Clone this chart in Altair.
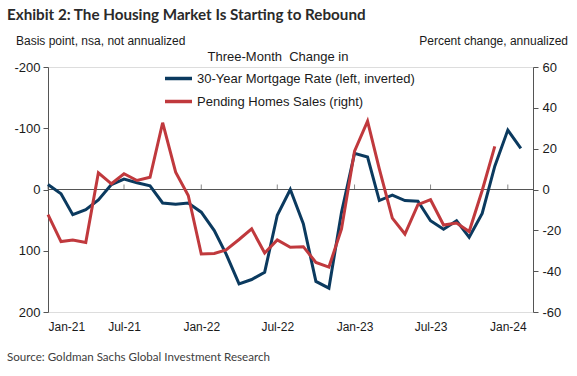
import altair as alt
import pandas as pd

# ---- data ----
months = pd.date_range("2021-01-01", periods=38, freq="MS").strftime("%Y-%m-%dT00:00:00").tolist()
mortgage_bp = [-8, 7, 41, 33, 17, -8, -17, -11, -6, 22, 24, 22, 37, 67, 105, 154, 147, 135,
               42, 0, 56, 150, 161, 37, -59, -53, 18, 9, 18, 19, 51, 65, 51, 78, 39, -38, -97, -67]
pending_pct = [-12.3, -25.5, -24.7, -25.9, 8.2, 2.8, 7.7, 4.4, 6.0, 32.7, 8.5, -2.9,
               -31.6, -31.3, -29.6, -24.5, -19.3, -31.1, -24.7, -28.3, -28.0, -35.7, -38.0, -19.3,
               18.8, 33.5, 10.1, -14.0, -21.8, -7.4, -5.0, -17.4, -16.4, -20.6, -0.5, 21.1]
tick_months = [(2021, 1), (2021, 7), (2022, 1), (2022, 7), (2023, 1), (2023, 7), (2024, 1)]
left_ticks = [-200, -150, -100, -50, 0, 50, 100, 150, 200]
right_ticks = [-60, -40, -20, 0, 20, 40, 60]
S1 = "30-Year Mortgage Rate (left, inverted)"
S2 = "Pending Homes Sales (right)"

BLUE = "#0B3A5F"
RED = "#C0393D"
AX = "#555555"
TXT = "#1a1a1a"
FONT = "Liberation Sans, Arial, sans-serif"
TFONT = "Lato, sans-serif"

df_m = pd.DataFrame({"date": months, "value": mortgage_bp, "series": S1})
df_p = pd.DataFrame({"date": months[:len(pending_pct)], "value": pending_pct, "series": S2})
df_ticks = pd.DataFrame({"date": [f"{y}-{m:02d}-01T00:00:00" for y, m in tick_months], "z": 0})
df_zero = pd.DataFrame({"z": [0]})

x_axis = alt.Axis(
    values=[alt.DateTime(year=y, month=m, date=1) for y, m in tick_months],
    format="%b-%y", domain=False, ticks=False, grid=False, title=None,
    labelPadding=9, labelFontSize=12, labelFont=FONT, labelColor=TXT,
)
x_scale = alt.Scale(domain=[alt.DateTime(year=2021, month=1, date=1),
                            alt.DateTime(year=2024, month=3, date=1)])
X = alt.X("date:T", scale=x_scale, axis=x_axis)

left_scale = alt.Scale(domain=[-200, 200], reverse=True, nice=False, zero=False)
right_scale = alt.Scale(domain=[-60, 60], nice=False, zero=False)

legend = alt.Legend(
    title=None, orient="none", legendX=115, legendY=-4, symbolType="stroke",
    symbolSize=729, symbolStrokeWidth=3.5, labelFontSize=13, labelFont=FONT,
    labelColor=TXT, rowPadding=-3, labelOffset=3, padding=0, labelLimit=0,
)
color = alt.Color("series:N", scale=alt.Scale(domain=[S1, S2], range=[BLUE, RED]), legend=legend)

blue = alt.Chart(df_m).mark_line(strokeWidth=3).encode(
    x=X,
    y=alt.Y("value:Q", scale=left_scale,
            axis=alt.Axis(values=left_ticks, orient="left", title=None, grid=False,
                          tickSize=5, domainColor=AX, tickColor=AX, labelFontSize=13,
                          labelFont=FONT, labelColor=TXT, labelPadding=3,
                          labelExpr="'' + datum.value")),
    color=color,
)
zero = alt.Chart(df_zero).mark_rule(color=AX, strokeWidth=1).encode(
    y=alt.Y("z:Q", scale=left_scale)
)
ticks = alt.Chart(df_ticks).mark_tick(orient="vertical", size=5, thickness=1, yOffset=-2.5, color=AX).encode(
    x=X, y=alt.Y("z:Q", scale=left_scale)
)
left = alt.layer(zero, ticks, blue)

red = alt.Chart(df_p).mark_line(strokeWidth=3).encode(
    x=X,
    y=alt.Y("value:Q", scale=right_scale,
            axis=alt.Axis(values=right_ticks, orient="right", title=None, grid=False,
                          tickSize=5, domainColor=AX, tickColor=AX, labelFontSize=13,
                          labelFont=FONT, labelColor=TXT, labelPadding=4,
                          labelExpr="'' + datum.value")),
    color=color,
)

def note(text, x, y, size, align="left", font=FONT, weight="normal", col=TXT):
    return alt.Chart(alt.Data(values=[{}])).mark_text(
        text=text, align=align, baseline="middle", fontSize=size, font=font,
        fontWeight=weight, color=col,
    ).encode(x=alt.value(x), y=alt.value(y))

notes = [
    note("Exhibit 2: The Housing Market Is Starting to Rebound", -41, -52, 15.2, font=TFONT, weight="bold", col="#2a2a2a"),
    note("Basis point, nsa, not annualized", -32, -26, 12),
    note("Percent change, annualized", 520, -26, 12, align="right"),
    note("Three-Month\u00a0\u00a0Change in", 230, -10, 13, align="center"),
    note("Source: Goldman Sachs Global Investment Research", -41, 291, 11.6, font=TFONT, col="#404040"),
]

chart = alt.layer(left, red, *notes).resolve_scale(y="independent").properties(
    width=485, height=245,
    autosize=alt.AutoSizeParams(type="none"),
    padding={"left": 48, "top": 67, "right": 44, "bottom": 64},
).configure_view(stroke=None).configure(background="white")

chart.save("out.html", embed_options={"renderer": "svg", "actions": False})
